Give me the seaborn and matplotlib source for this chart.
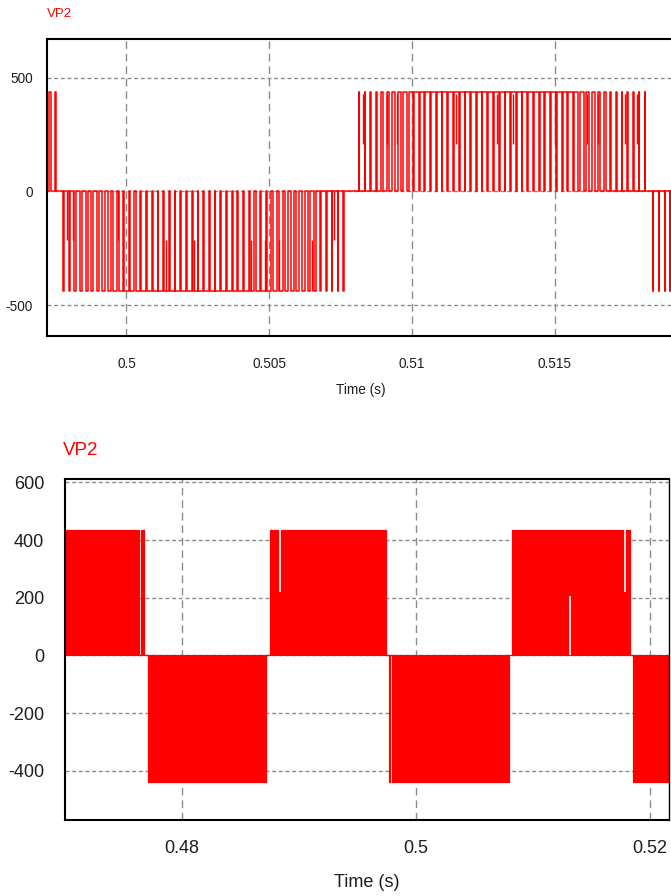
import numpy as np
import pandas as pd
import seaborn as sns
import matplotlib.pyplot as plt

# ---------------- panel 1: zoomed PWM waveform VP2 ----------------
pos_level = 437
neg_level = -440

start_centers = [0.49733, 0.49751]
start_widths_us = [60, 20]

neg_centers = [0.49780, 0.49800, 0.49820, 0.49840, 0.49860, 0.49880, 0.49900, 0.49920, 0.49940, 0.49960,
               0.49980, 0.50000, 0.50020, 0.50040, 0.50060, 0.50080, 0.50100, 0.50120, 0.50140, 0.50160,
               0.50180, 0.50200, 0.50220, 0.50240, 0.50260, 0.50280, 0.50300, 0.50320, 0.50340, 0.50360,
               0.50380, 0.50400, 0.50420, 0.50440, 0.50460, 0.50480, 0.50500, 0.50520, 0.50540, 0.50560,
               0.50580, 0.50600, 0.50620, 0.50640, 0.50660, 0.50680, 0.50700, 0.50720, 0.50740, 0.50760]
neg_widths_us = [15, 28, 42, 56, 70, 85, 100, 114, 126, 136,
                 145, 152, 158, 163, 167, 170, 172, 174, 175, 176,
                 177, 177, 177, 177, 176, 176, 175, 174, 173, 172,
                 170, 168, 166, 163, 160, 156, 150, 143, 135, 125,
                 112, 98, 82, 66, 52, 40, 30, 22, 16, 12]

pos_centers = [0.50815, 0.50835, 0.50855, 0.50875, 0.50895, 0.50915, 0.50935, 0.50955, 0.50975, 0.50995,
               0.51015, 0.51035, 0.51055, 0.51075, 0.51095, 0.51115, 0.51135, 0.51155, 0.51175, 0.51195,
               0.51215, 0.51235, 0.51255, 0.51275, 0.51295, 0.51315, 0.51335, 0.51355, 0.51375, 0.51395,
               0.51415, 0.51435, 0.51455, 0.51475, 0.51495, 0.51515, 0.51535, 0.51555, 0.51575, 0.51595,
               0.51615, 0.51635, 0.51655, 0.51675, 0.51695, 0.51715, 0.51735, 0.51755, 0.51775, 0.51795,
               0.51815]
pos_widths_us = [15, 30, 45, 60, 75, 90, 105, 120, 132, 142,
                 150, 156, 162, 166, 170, 172, 174, 176, 177, 178,
                 178, 178, 178, 178, 177, 176, 175, 174, 174, 173,
                 172, 171, 170, 168, 166, 164, 160, 155, 148, 135,
                 120, 100, 80, 60, 45, 35, 25, 20, 15, 12, 10]

tail_centers = [0.51844, 0.51865, 0.51886, 0.51903]
tail_widths_us = [12, 12, 12, 12]

# partial-height transitions seen in the trace
dip_t = [0.497906, 0.498116, 0.499692, 0.500683, 0.501383, 0.502363, 0.504349, 0.504849,
         0.505340, 0.506485, 0.507266,
         0.508281, 0.509111, 0.509461, 0.511537, 0.512962, 0.513533, 0.515004, 0.516113,
         0.516509, 0.517455, 0.517875]
dip_lo = [-215, -215, -215, -215, -440, -440, -440, -440, -440, -440, -215,
          207, 207, 207, 207, 207, 207, 207, 207, 207, 207, 207]
dip_hi = [0, 0, 0, 0, -215, -215, -215, -215, -215, -215, 0,
          430, 430, 430, 430, 430, 430, 430, 430, 430, 430, 430]

top_xticks = [0.5, 0.505, 0.51, 0.515]
top_xlabels = ["0.5", "0.505", "0.51", "0.515"]
top_yticks = [500, 0, -500]
top_ylabels = ["500", "0", "-500"]

# ---------------- panel 2: wide view VP2 ----------------
bot_edges = [0.4695, 0.47638, 0.47650, 0.47681, 0.47710, 0.47744, 0.47758, 0.48640, 0.48654, 0.48720,
             0.48754, 0.49748, 0.49770, 0.49782, 0.49795, 0.49829, 0.49842, 0.50768, 0.50781, 0.50794,
             0.50820, 0.51832, 0.51852, 0.5225]
bot_levels = [434, 0, 434, 0, -440, 0, -440, 0, -440, 0,
              434, 0, -440, 0, -440, 0, -440, 0, -440, 0,
              434, 0, -440, -440]
notch_t = [0.48840, 0.51316, 0.51785]
notch_lo = [220, 0, 220]
notch_hi = [434, 206, 434]

bot_xticks = [0.48, 0.5, 0.52]
bot_xlabels = ["0.48", "0.5", "0.52"]
bot_yticks = [600, 400, 200, 0, -200, -400]
bot_ylabels = ["600", "400", "200", "0", "-200", "-400"]

RED = "#ff0000"
GRID = "#8c8c8c"
TXT = "#1e1e1e"

sns.set_style("white")
plt.rcParams['font.family'] = ['Liberation Sans', 'DejaVu Sans']


def pulse_train(centers, widths_us, level):
    t, v = [], []
    for c, w in zip(centers, widths_us):
        half = w * 1e-6 / 2
        t += [c - half, c + half]
        v += [level, 0]
    return t, v


t_all, v_all = [0.4969], [0]
for cs, ws, lv in [(start_centers, start_widths_us, pos_level),
                   (neg_centers, neg_widths_us, neg_level),
                   (pos_centers, pos_widths_us, pos_level),
                   (tail_centers, tail_widths_us, neg_level)]:
    tt, vv = pulse_train(cs, ws, lv)
    t_all += tt
    v_all += vv
t_all.append(0.5196)
v_all.append(0)
top_df = pd.DataFrame({"t": t_all, "v": v_all})
bot_df = pd.DataFrame({"t": bot_edges, "v": bot_levels})

fig = plt.figure(figsize=(6.71, 8.96), dpi=100)
ax1 = fig.add_axes([47.3 / 671, 1 - 336 / 896, (676 - 47.3) / 671, (336 - 39) / 896])
ax2 = fig.add_axes([65 / 671, 1 - 820 / 896, (669 - 65) / 671, (820 - 479) / 896])

# top trace
sns.lineplot(data=top_df, x="t", y="v", ax=ax1, drawstyle="steps-post", estimator=None,
             sort=False, color=RED, lw=1.1)
ax1.vlines(dip_t, dip_lo, dip_hi, color=RED, lw=1.0)
ax1.set_xlim(0.497227, 0.51924)
ax1.set_ylim(-636, 670)

# bottom trace
ax2.fill_between(bot_df["t"], bot_df["v"], 0, step="post", facecolor=RED,
                 edgecolor=RED, lw=0.8)
sns.lineplot(data=bot_df, x="t", y="v", ax=ax2, drawstyle="steps-post", estimator=None,
             sort=False, color=RED, lw=0.8)
ax2.vlines(notch_t, notch_lo, notch_hi, color="white", lw=1.2)
ax2.set_xlim(0.47004, 0.52162)
ax2.set_ylim(-571, 612)

for ax, xt, xl, yt, yl, fs, xpad, ypad in [
        (ax1, top_xticks, top_xlabels, top_yticks, top_ylabels, 9.8, 15.0, 10.5),
        (ax2, bot_xticks, bot_xlabels, bot_yticks, bot_ylabels, 13.0, 14.5, 15.0)]:
    ax.set_xticks(xt)
    ax.set_xticklabels(xl)
    ax.set_yticks(yt)
    ax.set_yticklabels(yl)
    ax.set_xlabel("")
    ax.set_ylabel("")
    ax.set_axisbelow(True)
    ax.xaxis.grid(True, color=GRID, lw=1.0, ls=(0, (5.5, 3.5)))
    ax.yaxis.grid(True, color=GRID, lw=1.0, ls=(0, (2.8, 2.0)))
    ax.tick_params(axis="x", length=0, pad=xpad, labelsize=fs, colors=TXT)
    ax.tick_params(axis="y", length=0, pad=ypad, labelsize=fs, colors=TXT)
    for sp in ax.spines.values():
        sp.set_visible(True)
        sp.set_color("black")
        sp.set_linewidth(1.5)
ax2.spines["right"].set_linewidth(1.0)

fig.text(47 / 671, 1 - 14 / 896, "VP2", color=RED, fontsize=9.5, ha="left", va="center")
fig.text(361 / 671, 1 - 390 / 896, "Time (s)", color=TXT, fontsize=9.8, ha="center", va="center")
fig.text(63 / 671, 1 - 450 / 896, "VP2", color=RED, fontsize=13.5, ha="left", va="center")
fig.text(367 / 671, 1 - 882 / 896, "Time (s)", color=TXT, fontsize=13, ha="center", va="center")

fig.savefig("out.png", dpi=100, facecolor="white")
